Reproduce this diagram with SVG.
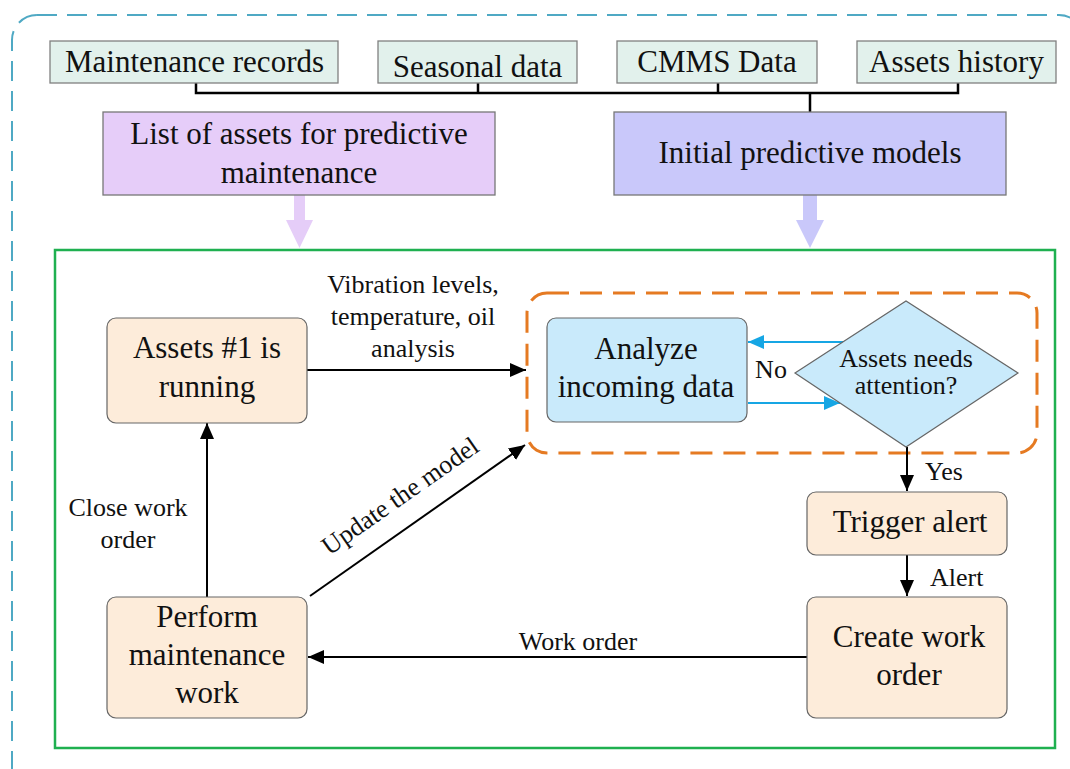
<svg xmlns="http://www.w3.org/2000/svg" width="1070" height="769" viewBox="0 0 1070 769">
<defs>
<style>
text{font-family:"Liberation Serif","Times New Roman",serif;fill:#111;text-anchor:middle}
.big{font-size:31px}
.lbl{font-size:26px}
.src{fill:#e2f1ec;stroke:#808080;stroke-width:1.3}
.proc{fill:#fdecda;stroke:#666;stroke-width:1.2}
.blue{fill:#c9eafb;stroke:#666;stroke-width:1.2}
.ln{fill:none;stroke:#000;stroke-width:2}
.bus{fill:none;stroke:#000;stroke-width:2.5}
.bl{fill:none;stroke:#16a6e4;stroke-width:2.2}
</style>
<marker id="ah" markerUnits="userSpaceOnUse" markerWidth="17" markerHeight="15" refX="16" refY="7" orient="auto">
<path d="M0,0 L16,7 L0,14 z" fill="#000"/>
</marker>
<marker id="ahb" markerUnits="userSpaceOnUse" markerWidth="17" markerHeight="15" refX="16" refY="7" orient="auto">
<path d="M0,0 L16,7 L0,14 z" fill="#16a6e4"/>
</marker>
</defs>
<rect width="1070" height="769" fill="#fff"/>
<!-- outer dashed frame -->
<rect x="12" y="15" width="1072" height="790" rx="25" ry="25" fill="none" stroke="#4fa9c4" stroke-width="2" stroke-dasharray="20 10"/>
<!-- green frame -->
<rect x="55" y="250" width="1000" height="498" fill="none" stroke="#1fb050" stroke-width="2.5"/>
<!-- orange dashed group -->
<rect x="527" y="293" width="510" height="160" rx="20" ry="20" fill="none" stroke="#e57a22" stroke-width="3" stroke-dasharray="22 11"/>

<g id="connectors">
<path class="bus" d="M196,83 V93 H958 V83 M478,83 V93 M718,83 V93 M810,93 V112"/>
<polygon points="294,195 305,195 305,220 313,220 299.5,248 286,220 294,220" fill="#e5cdf8"/>
<polygon points="803,195 817,195 817,220 824,220 810,248 796,220 803,220" fill="#c9c8fa"/>
<line class="ln" x1="307" y1="370" x2="526" y2="370" marker-end="url(#ah)"/>
<line class="ln" x1="310" y1="596" x2="525" y2="445" marker-end="url(#ah)"/>
<line class="ln" x1="207" y1="597" x2="207" y2="423" marker-end="url(#ah)"/>
<line class="ln" x1="807" y1="657" x2="308" y2="657" marker-end="url(#ah)"/>
<line class="ln" x1="907" y1="447" x2="907" y2="491" marker-end="url(#ah)"/>
<line class="ln" x1="907" y1="555" x2="907" y2="596" marker-end="url(#ah)"/>
<line class="bl" x1="843" y1="342" x2="748" y2="342" marker-end="url(#ahb)"/>
<line class="bl" x1="748" y1="403" x2="840" y2="403" marker-end="url(#ahb)"/>
<text class="lbl" x="413" y="293">Vibration levels,</text>
<text class="lbl" x="413" y="325">temperature, oil</text>
<text class="lbl" x="413" y="357">analysis</text>
<text class="lbl" x="405" y="503" transform="rotate(-35 405 503)">Update the model</text>
<text class="lbl" x="128" y="516">Close work</text>
<text class="lbl" x="128" y="548">order</text>
<text class="lbl" x="578" y="650">Work order</text>
<text class="lbl" x="771" y="378">No</text>
<text class="lbl" x="925" y="480" style="text-anchor:start">Yes</text>
<text class="lbl" x="930" y="586" style="text-anchor:start">Alert</text>
</g>

<g id="maintenance-records">
<rect class="src" x="50" y="41" width="288" height="42"/>
<text class="big" x="194.5" y="72">Maintenance records</text>
</g>
<g id="seasonal-data">
<rect class="src" x="378" y="41" width="199" height="42"/>
<text class="big" x="477.5" y="77">Seasonal data</text>
</g>
<g id="cmms-data">
<rect class="src" x="617" y="41" width="200" height="42"/>
<text class="big" x="717" y="72">CMMS Data</text>
</g>
<g id="assets-history">
<rect class="src" x="857" y="41" width="199" height="42"/>
<text class="big" x="956.5" y="72">Assets history</text>
</g>
<g id="list-assets">
<rect x="103" y="112" width="392" height="83" fill="#e6cdf9" stroke="#777" stroke-width="1.3"/>
<text class="big" x="299" y="144">List of assets for predictive</text>
<text class="big" x="299" y="183">maintenance</text>
</g>
<g id="initial-models">
<rect x="614" y="112" width="392" height="83" fill="#c9c8fa" stroke="#777" stroke-width="1.3"/>
<text class="big" x="810" y="163">Initial predictive models</text>
</g>
<g id="assets-running">
<rect class="proc" x="107" y="318" width="200" height="105" rx="9" ry="9"/>
<text class="big" x="207" y="358">Assets #1 is</text>
<text class="big" x="207" y="397">running</text>
</g>
<g id="analyze">
<rect class="blue" x="547" y="318" width="200" height="104" rx="9" ry="9"/>
<text class="big" x="646" y="359">Analyze</text>
<text class="big" x="646" y="397">incoming data</text>
</g>
<g id="decision">
<polygon class="blue" points="795,373 906,301 1018,373 906,447"/>
<text class="lbl" x="906" y="367">Assets needs</text>
<text class="lbl" x="906" y="394">attention?</text>
</g>
<g id="trigger-alert">
<rect class="proc" x="807" y="492" width="200" height="63" rx="9" ry="9"/>
<text class="big" x="910" y="532">Trigger alert</text>
</g>
<g id="create-work-order">
<rect class="proc" x="807" y="597" width="200" height="121" rx="9" ry="9"/>
<text class="big" x="909" y="647">Create work</text>
<text class="big" x="909" y="685">order</text>
</g>
<g id="perform-maintenance">
<rect class="proc" x="107" y="597" width="200" height="121" rx="9" ry="9"/>
<text class="big" x="207" y="627">Perform</text>
<text class="big" x="207" y="665">maintenance</text>
<text class="big" x="207" y="703">work</text>
</g>
</svg>
